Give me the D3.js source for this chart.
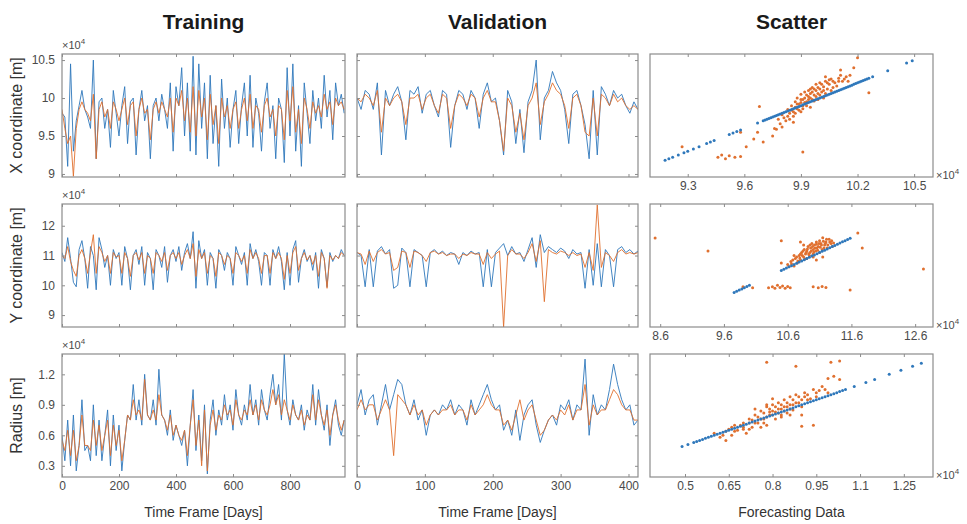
<!DOCTYPE html>
<html>
<head>
<meta charset="utf-8">
<script src="https://cdn.jsdelivr.net/npm/d3@7"></script>
<style>
  body { margin: 0; background: #fff; }
  text { font-family: "Liberation Sans", Arial, sans-serif; }
</style>
</head>
<body>
<script>
// values in units of 1e4 m, sampled every 10 days (training) / 6 days (validation)
const trainX_actual = [9.8,9.75,9.1,10.45,9.3,9.7,9.9,10.1,9.85,9.75,9.6,10.5,9.2,9.95,10.0,9.6,9.85,9.35,10.1,9.8,
  9.5,9.9,10.15,9.4,9.95,10.0,9.25,9.85,10.1,9.7,9.9,9.2,9.9,10.0,9.7,10.05,9.85,9.6,10.2,9.3,
  10.15,9.9,10.4,9.5,10.2,9.3,10.55,9.25,10.45,9.6,10.2,9.2,10.3,9.4,9.9,9.1,10.25,9.6,10.0,9.35,
  9.85,10.1,9.4,9.9,10.2,9.5,10.3,9.35,10.0,9.8,9.3,9.95,10.2,9.6,9.9,9.2,10.0,9.85,9.15,10.4,
  9.5,10.45,9.3,9.9,9.1,10.2,9.8,9.4,10.1,9.7,10.0,9.6,10.3,9.75,10.1,9.45,10.2,9.9,10.05,9.8]
const trainX_pred = [9.85,9.6,9.4,9.5,8.97,9.6,9.85,9.95,9.85,9.8,9.7,10.05,9.2,9.85,9.95,9.75,9.85,9.6,9.95,9.85,
  9.7,9.85,10.0,9.65,9.9,9.95,9.5,9.85,10.0,9.8,9.85,9.45,9.85,9.95,9.8,9.95,9.85,9.75,10.0,9.55,
  10.0,9.9,10.1,9.7,10.0,9.55,10.15,9.5,10.1,9.75,10.0,9.45,10.05,9.65,9.9,9.4,10.0,9.75,9.9,9.6,
  9.85,9.95,9.6,9.85,10.0,9.7,10.05,9.6,9.9,9.85,9.55,9.9,10.0,9.75,9.85,9.5,9.9,9.85,9.45,10.1,
  9.7,10.15,9.55,9.85,9.4,10.0,9.85,9.6,9.95,9.8,9.9,9.75,10.05,9.85,9.95,9.65,10.0,9.9,9.95,9.85]
const valX_actual = [10.0,9.85,10.1,10.05,9.85,10.2,9.25,10.1,9.9,10.05,10.15,9.95,9.45,10.1,10.05,10.15,9.8,10.05,10.1,9.9,
  9.75,10.1,10.05,9.35,9.9,10.1,10.05,9.85,10.1,10.0,9.6,10.05,10.2,9.95,10.0,9.7,9.25,10.1,9.95,9.4,
  9.85,9.28,9.95,10.1,10.5,9.45,10.0,10.1,10.35,10.2,10.1,9.85,9.4,10.05,10.1,9.9,9.65,9.2,10.1,9.25,
  10.15,10.05,9.9,10.1,10.0,10.05,9.9,9.8,9.95,9.85]
const valX_pred = [10.0,9.95,10.05,10.0,9.9,10.1,9.55,10.0,9.9,10.0,10.05,9.95,9.65,10.0,10.0,10.05,9.85,10.0,10.05,9.9,
  9.8,10.05,10.0,9.6,9.9,10.05,10.0,9.9,10.05,10.0,9.75,10.0,10.1,9.95,9.95,9.7,9.3,10.0,9.9,9.55,
  9.8,9.45,9.9,10.0,10.2,9.65,9.95,10.05,10.2,10.1,10.05,9.9,9.6,10.0,10.05,9.9,9.55,9.5,10.0,9.5,
  10.05,10.0,9.9,10.05,9.95,10.0,9.9,9.85,9.9,9.85]

const trainY_actual = [11.1,10.8,11.6,10.9,10.1,9.95,11.2,11.5,10.9,9.9,11.3,11.0,9.85,11.6,11.2,10.6,11.0,10.0,11.2,10.9,
  11.1,10.0,11.3,10.9,9.85,11.0,11.2,10.7,11.3,10.0,11.1,10.9,9.85,11.2,11.0,10.6,11.3,10.1,11.0,11.2,
  10.8,11.3,10.5,11.1,11.4,10.9,11.8,9.9,11.5,10.9,11.2,10.0,11.1,10.9,9.9,11.2,11.0,10.5,11.1,10.9,
  10.0,11.3,11.0,10.7,11.1,10.0,11.4,10.9,11.2,10.8,10.0,11.1,11.0,10.0,11.2,10.9,11.3,10.8,9.85,11.1,
  10.0,11.2,11.5,10.1,10.9,11.2,10.8,11.0,10.5,11.1,9.9,11.2,10.9,9.95,11.1,10.8,11.0,10.9,11.2,11.0]
const trainY_pred = [11.0,10.9,11.3,10.8,10.5,10.3,11.0,11.2,10.9,10.4,11.1,11.7,10.4,11.3,11.1,10.8,11.0,10.4,11.1,10.95,
  11.0,10.4,11.1,10.9,10.3,11.0,11.1,10.85,11.1,10.4,11.0,10.9,10.4,11.1,11.0,10.8,11.1,10.5,11.0,11.1,
  10.9,11.1,10.7,11.0,11.2,10.9,11.4,10.3,11.2,10.9,11.1,10.4,11.0,10.9,10.3,11.1,11.0,10.7,11.0,10.9,
  10.4,11.1,11.0,10.8,11.0,10.4,11.2,10.9,11.1,10.9,10.4,11.0,11.0,10.4,11.1,10.9,11.1,10.9,10.2,11.0,
  10.4,11.1,11.3,10.5,10.9,11.1,10.85,11.0,10.7,11.0,10.3,11.1,10.9,9.9,11.0,10.85,11.0,10.9,11.1,11.0]
const valY_actual = [11.1,11.0,9.95,11.2,9.95,11.15,11.3,11.05,11.2,9.9,10.0,11.25,11.1,9.95,11.2,11.1,11.0,9.95,11.1,11.2,
  11.05,11.15,11.0,11.1,11.05,10.7,11.1,11.0,11.15,11.05,11.1,9.95,11.2,9.95,11.1,11.25,11.4,11.0,11.3,11.05,
  11.1,10.8,11.2,11.6,10.6,11.7,11.1,11.3,11.2,11.1,11.25,11.15,10.9,11.2,11.05,11.1,9.9,11.2,10.0,11.4,
  9.95,11.2,11.0,9.95,11.2,11.3,11.1,11.2,11.05,11.15]
const valY_pred = [11.1,11.05,10.7,11.15,10.8,11.1,11.2,11.05,11.1,10.5,10.6,11.15,11.1,10.6,11.15,11.1,11.0,10.8,11.1,11.15,
  11.05,11.1,11.0,11.05,11.05,10.9,11.05,11.0,11.1,11.05,11.05,10.7,11.1,10.9,11.05,11.15,8.6,11.0,11.2,11.05,
  11.05,10.9,11.1,11.4,10.8,11.5,9.45,11.2,11.1,11.05,11.15,11.1,11.0,11.1,11.0,11.05,10.6,11.1,10.5,12.7,
  10.6,11.1,11.0,10.8,11.1,11.2,11.05,11.1,11.05,11.1]

const trainR_actual = [0.6,0.35,0.75,0.3,0.8,0.25,0.5,0.95,0.45,0.5,0.35,0.9,0.4,0.75,0.35,0.6,0.85,0.3,0.8,0.45,
  0.7,0.25,0.55,0.8,0.75,1.1,0.75,0.95,0.7,1.2,0.8,0.75,0.95,0.7,1.25,0.8,0.75,0.6,0.85,0.55,
  0.7,0.6,0.5,0.65,0.3,0.7,1.05,0.45,0.8,0.35,0.9,0.22,0.75,0.95,0.6,0.85,0.7,1.0,0.75,0.9,
  0.65,1.05,0.8,0.7,0.9,0.75,1.1,0.8,0.95,0.7,1.05,0.85,0.75,1.0,1.2,0.9,1.1,0.75,1.4,0.85,
  0.7,0.95,0.8,0.75,0.9,0.65,0.85,0.75,1.1,0.7,1.05,0.8,0.65,0.9,0.5,0.8,0.95,0.7,0.6,0.75]
const trainR_pred = [0.55,0.45,0.65,0.4,0.65,0.35,0.5,0.8,0.5,0.5,0.45,0.75,0.5,0.7,0.45,0.6,0.75,0.4,0.7,0.5,
  0.65,0.35,0.55,0.8,0.75,0.95,0.8,0.85,0.75,1.15,0.8,0.75,0.85,0.75,1.0,0.8,0.75,0.65,0.8,0.6,
  0.7,0.6,0.55,0.65,0.4,0.7,0.95,0.5,0.75,0.3,0.85,0.25,0.7,0.85,0.65,0.8,0.75,0.9,0.8,0.85,
  0.7,0.95,0.8,0.75,0.85,0.8,0.95,0.8,0.9,0.75,0.95,0.85,0.8,0.9,1.05,0.9,1.0,0.8,0.95,0.85,
  0.75,0.9,0.8,0.75,0.85,0.7,0.8,0.75,1.0,0.75,0.95,0.8,0.7,0.85,0.6,0.8,0.9,0.75,0.65,0.75]
const valR_actual = [0.9,1.05,0.8,0.95,1.0,0.7,0.9,1.1,0.85,1.0,1.15,1.1,0.9,0.8,0.95,0.75,0.85,0.6,0.8,0.85,
  0.8,0.9,0.85,0.95,0.8,0.9,0.85,0.7,0.95,0.8,0.9,1.0,1.1,0.95,0.85,0.9,0.65,0.75,0.6,0.85,
  0.55,0.8,0.9,0.95,0.7,0.53,0.65,0.75,0.8,0.7,0.9,0.85,0.95,0.75,0.9,0.85,1.35,0.6,1.0,0.8,
  0.9,0.85,1.05,1.3,1.1,0.95,0.85,0.9,0.7,0.75]
const valR_pred = [0.85,0.95,0.85,0.9,0.9,0.75,0.85,0.95,0.85,0.4,1.0,0.95,0.9,0.8,0.9,0.8,0.85,0.7,0.8,0.85,
  0.8,0.85,0.85,0.9,0.8,0.85,0.85,0.75,0.9,0.8,0.85,0.9,1.0,0.9,0.85,0.85,0.7,0.75,0.65,0.8,
  0.95,0.75,0.85,0.9,0.75,0.6,0.65,0.75,0.8,0.75,0.85,0.8,0.9,0.75,0.85,0.85,1.1,0.7,0.9,0.8,
  0.85,0.85,0.95,1.05,1.0,0.9,0.85,0.85,0.75,0.75]

// scatter: blue = target vs target, orange = [target, forecast]
const scatX_target = [9.18,9.2,9.22,9.25,9.28,9.3,9.33,9.36,9.4,9.42,9.44,9.52,9.54,9.56,9.58,9.67,9.7,9.71,9.72,
  9.73,9.74,9.75,9.76,9.77,9.78,9.79,9.8,9.81,9.82,9.83,9.84,9.85,9.86,9.87,9.88,9.89,9.9,9.91,9.92,9.93,
  9.94,9.95,9.96,9.97,9.98,9.99,10.0,10.01,10.02,10.03,10.04,10.05,10.06,10.07,10.08,10.09,10.1,10.11,
  10.12,10.13,10.14,10.15,10.16,10.17,10.18,10.19,10.2,10.21,10.22,10.23,10.24,10.25,10.26,10.28,10.36,10.46,10.49]
const scatX_fore = [[9.78,9.72],[9.8,9.78],[9.82,9.7],[9.83,9.85],[9.84,9.8],[9.85,9.9],[9.86,9.76],[9.87,9.95],
  [9.88,9.86],[9.88,10.0],[9.89,9.92],[9.9,9.98],[9.9,10.05],[9.91,9.9],[9.92,10.08],[9.92,10.0],[9.93,9.95],
  [9.94,10.1],[9.94,10.02],[9.95,10.06],[9.96,9.98],[9.96,10.14],[9.97,10.04],[9.98,10.1],[9.98,10.18],
  [9.99,10.06],[10.0,10.12],[10.0,10.2],[10.01,10.08],[10.02,10.15],[10.03,10.22],[10.04,10.12],[10.05,10.18],
  [10.06,10.25],[10.07,10.14],[10.08,10.2],[10.1,10.26],[10.12,10.22],[10.14,10.28],[9.86,9.68],[9.8,9.62],
  [9.76,9.6],[9.95,9.88],[10.02,10.0],[9.9,9.82],
  [9.79,9.66],[9.81,9.74],[9.83,9.76],[9.85,9.84],[9.86,9.82],[9.87,9.88],[9.88,9.92],[9.89,9.84],[9.9,9.94],
  [9.91,9.98],[9.92,9.94],[9.93,10.04],[9.93,9.9],[9.94,9.98],[9.95,10.12],[9.95,10.0],[9.96,10.08],[9.97,10.12],
  [9.97,9.96],[9.98,10.02],[9.99,10.14],[10.0,10.04],[10.01,10.18],[10.02,10.1],[10.03,10.06],[10.04,10.2],
  [10.05,10.24],[10.06,10.1],[10.07,10.22],[10.09,10.16],[10.1,10.22],[10.11,10.3],[10.13,10.25],[10.15,10.22],
  [10.16,10.3],[9.84,9.72],[9.87,9.8],[9.91,9.86],[9.99,9.98],[10.03,10.28],
  [9.27,9.36],[9.46,9.22],[9.48,9.25],[9.5,9.2],[9.52,9.24],[9.55,9.22],[9.58,9.23],[9.58,9.55],[9.61,9.36],
  [9.65,9.46],[9.67,9.55],[9.68,9.89],[9.7,9.42],[9.75,9.5],[9.77,9.59],[10.11,10.37],[10.18,10.4],[10.26,10.07],
  [10.2,10.53],[9.91,9.29]]
const scatY_target = [9.76,9.8,9.84,9.88,9.92,9.96,10.0,10.5,10.54,10.58,10.62,10.66,10.7,10.74,10.78,10.82,
  10.86,10.9,10.94,10.98,11.02,11.06,11.1,11.14,11.18,11.22,11.26,11.3,11.34,11.38,11.42,11.46,11.5,11.54,11.58]
const scatY_fore = [[10.6,10.7],[10.65,10.8],[10.7,10.65],[10.72,10.9],[10.75,10.75],[10.78,11.0],[10.8,10.85],
  [10.82,11.1],[10.85,10.95],[10.86,11.2],[10.88,11.05],[10.9,10.9],[10.9,11.15],[10.92,11.3],[10.94,11.0],
  [10.95,11.1],[10.96,11.25],[10.98,11.4],[11.0,11.05],[11.0,11.2],[11.02,11.35],[11.04,11.15],[11.05,11.45],
  [11.06,11.25],[11.08,11.3],[11.1,11.1],[11.1,11.5],[11.12,11.4],[11.14,11.2],[11.15,11.6],[11.18,11.35],
  [11.2,11.45],[11.22,11.25],[11.25,11.55],[11.28,11.4],[11.3,11.3],[10.85,11.35],[10.7,11.0],[11.15,10.95],
  [11.05,10.85],[10.5,10.75],[10.8,11.45],
  [10.62,10.62],[10.66,10.72],[10.68,10.85],[10.74,10.95],[10.76,10.82],[10.79,10.92],[10.83,11.0],[10.84,11.15],
  [10.87,10.88],[10.89,11.1],[10.91,11.22],[10.93,11.05],[10.97,11.15],[10.99,11.3],[11.01,11.12],[11.03,11.25],
  [11.05,11.38],[11.07,11.18],[11.09,11.4],[11.11,11.28],[11.13,11.35],[11.16,11.48],[11.17,11.25],[11.19,11.4],
  [11.21,11.55],[11.23,11.35],[11.26,11.45],[11.29,11.5],[11.32,11.42],[11.0,10.95],[10.95,11.35],[10.8,11.05],
  [10.3,9.92],[10.36,9.95],[10.4,9.9],[10.44,10.0],[10.48,9.93],[10.52,9.98],[10.56,9.9],[10.6,9.96],[10.64,9.92],
  [11.0,9.95],[11.08,9.92],[11.14,9.96],[11.2,9.93],[9.9,9.95],[10.05,9.92],[8.52,11.59],[9.35,11.15],
  [11.7,11.76],[11.77,11.25],[12.73,10.55],[11.58,9.84],[10.5,11.5]]
const scatR_target = [0.49,0.51,0.53,0.54,0.55,0.56,0.57,0.58,0.59,0.6,0.61,0.62,0.63,0.64,0.65,0.66,0.67,0.68,
  0.69,0.7,0.71,0.72,0.73,0.74,0.75,0.76,0.77,0.78,0.79,0.8,0.81,0.82,0.83,0.84,0.85,0.86,0.87,0.88,0.89,0.9,
  0.91,0.92,0.93,0.94,0.95,0.96,0.97,0.98,0.99,1.0,1.01,1.02,1.03,1.04,1.05,1.08,1.12,1.15,1.2,1.24,1.28,1.31]
const scatR_fore = [[0.62,0.58],[0.64,0.64],[0.66,0.6],[0.67,0.7],[0.68,0.65],[0.7,0.72],[0.71,0.62],[0.72,0.76],
  [0.73,0.68],[0.74,0.8],[0.75,0.72],[0.76,0.84],[0.77,0.76],[0.78,0.88],[0.78,0.7],[0.79,0.8],[0.8,0.9],
  [0.8,0.84],[0.81,0.76],[0.82,0.92],[0.82,0.86],[0.83,0.8],[0.84,0.95],[0.84,0.88],[0.85,0.82],[0.86,0.98],
  [0.86,0.9],[0.87,0.85],[0.88,1.0],[0.89,0.92],[0.9,0.88],[0.91,1.02],[0.92,0.95],[0.94,1.05],[0.95,0.98],
  [0.97,1.08],[0.99,1.02],[0.7,0.66],[0.76,0.68],[0.8,0.96],[0.74,0.86],[0.66,0.68],[0.9,0.8],
  [0.63,0.6],[0.65,0.66],[0.67,0.64],[0.69,0.7],[0.7,0.68],[0.72,0.72],[0.73,0.75],[0.74,0.72],[0.75,0.78],
  [0.76,0.76],[0.77,0.82],[0.78,0.78],[0.79,0.86],[0.79,0.83],[0.8,0.8],[0.81,0.88],[0.81,0.83],[0.82,0.82],
  [0.83,0.9],[0.83,0.86],[0.84,0.84],[0.85,0.92],[0.85,0.88],[0.86,0.86],[0.87,0.95],[0.87,0.9],[0.88,0.92],
  [0.89,0.98],[0.9,0.95],[0.91,0.98],[0.92,1.0],[0.93,0.96],[0.95,1.02],[0.96,1.04],[0.98,1.05],[0.72,0.66],
  [0.77,0.72],[0.83,0.78],[0.86,0.8],[0.78,0.9],
  [0.78,1.32],[0.88,1.28],[1.0,1.32],[1.03,1.33],[0.99,1.16],[1.01,1.18],[1.03,1.15],[0.9,0.69],[0.94,0.7],
  [0.64,0.55],[0.6,0.62]]

const rowNames = ['X coordinate [m]', 'Y coordinate [m]', 'Radius [m]']
const colTitles = ['Training', 'Validation', 'Scatter']
const yDomains = [[8.96, 10.58], [8.6, 12.73], [0.19, 1.40]]
const yTicks = [[9, 9.5, 10, 10.5], [9, 10, 11, 12], [0.3, 0.6, 0.9, 1.2]]
const trainTicks = [0, 200, 400, 600, 800]
const valTicks = [0, 100, 200, 300, 400]
const scatDomains = [[9.1, 10.6], [8.44, 12.88], [0.38, 1.35]]
const scatTicks = [[9.3, 9.6, 9.9, 10.2, 10.5], [8.6, 9.6, 10.6, 11.6, 12.6], [0.5, 0.65, 0.8, 0.95, 1.1, 1.25]]

const trainSeries = [[trainX_actual, trainX_pred], [trainY_actual, trainY_pred], [trainR_actual, trainR_pred]]
const valSeries = [[valX_actual, valX_pred], [valY_actual, valY_pred], [valR_actual, valR_pred]]
const scatSeries = [[scatX_target, scatX_fore], [scatY_target, scatY_fore], [scatR_target, scatR_fore]]

const blue = '#2f78bb', orange = '#e0702f', boxColor = '#8c8c8c', tickText = '#4a4a4a'
const colX = [62, 357, 650], colW = [283, 281, 283]
const rowY = [54, 204, 354], rowH = 123

const svg = d3.select('body').append('svg').attr('width', 967).attr('height', 524)

colTitles.forEach((t, c) => {
  svg.append('text').attr('x', colX[c] + colW[c] / 2).attr('y', 29)
    .attr('text-anchor', 'middle').attr('font-size', 21).attr('font-weight', 'bold')
    .attr('fill', '#1a1a1a').text(t)
})

function exponent(g, x, y, anchor) {
  const t = g.append('text').attr('x', x).attr('y', y).attr('font-size', 11)
    .attr('fill', tickText).attr('text-anchor', anchor)
  t.append('tspan').text('×10')
  t.append('tspan').attr('font-size', 8).attr('dy', -5).text('4')
}

function frame(g, x, y, w, h, opts) {
  const ax = (gen, tr) => {
    const a = g.append('g').attr('transform', tr).call(gen)
    a.select('.domain').remove()
    a.selectAll('line').attr('stroke', boxColor)
    a.selectAll('text').attr('fill', tickText).attr('font-size', 12)
      .attr('font-family', '"Liberation Sans", Arial, sans-serif')
  }
  ax(d3.axisBottom(x).tickValues(opts.xTicks).tickSize(-3).tickPadding(4)
    .tickFormat(opts.xLabels ? d3.format('') : ''), `translate(0,${h})`)
  ax(d3.axisTop(x).tickValues(opts.xTicks).tickSize(-3).tickFormat(''), 'translate(0,0)')
  if (opts.yTicks) {
    ax(d3.axisLeft(y).tickValues(opts.yTicks).tickSize(-3).tickPadding(7)
      .tickFormat(opts.yLabels ? d3.format('') : ''), 'translate(0,0)')
    ax(d3.axisRight(y).tickValues(opts.yTicks).tickSize(-3).tickFormat(''), `translate(${w},0)`)
  }
  g.append('rect').attr('width', w).attr('height', h)
    .attr('fill', 'none').attr('stroke', boxColor).attr('stroke-width', 1.2)
}

for (let r = 0; r < 3; r++) {
  // time series panels
  ;[[trainSeries[r], 993, trainTicks, 10], [valSeries[r], 414, valTicks, 6]].forEach(([ser, xmax, ticks, step], c) => {
    const w = colW[c]
    const g = svg.append('g').attr('transform', `translate(${colX[c]},${rowY[r]})`)
    const x = d3.scaleLinear().domain([0, xmax]).range([0, w])
    const y = d3.scaleLinear().domain(yDomains[r]).range([rowH, 0])
    const clipId = `clip-${r}-${c}`
    g.append('clipPath').attr('id', clipId).append('rect').attr('width', w).attr('height', rowH)
    const line = d3.line().x((d, i) => x(i * step)).y(d => y(d))
    ser.forEach((vals, k) => {
      g.append('path').datum(vals).attr('d', line).attr('fill', 'none')
        .attr('stroke', k === 0 ? blue : orange).attr('stroke-width', 1)
        .attr('stroke-opacity', 0.9).attr('clip-path', `url(#${clipId})`)
    })
    frame(g, x, y, w, rowH, { xTicks: ticks, xLabels: r === 2, yTicks: yTicks[r], yLabels: c === 0 })
    if (c === 0) exponent(g, 0, -5, 'start')
  })

  // scatter panel
  const w = colW[2]
  const g = svg.append('g').attr('transform', `translate(${colX[2]},${rowY[r]})`)
  const x = d3.scaleLinear().domain(scatDomains[r]).range([0, w])
  const y = d3.scaleLinear().domain(yDomains[r]).range([rowH, 0])
  const [target, fore] = scatSeries[r]
  g.selectAll('.fore').data(fore).join('circle').attr('class', 'fore')
    .attr('cx', d => x(d[0])).attr('cy', d => y(d[1])).attr('r', 1.5).attr('fill', orange)
  g.selectAll('.targ').data(target).join('circle').attr('class', 'targ')
    .attr('cx', d => x(d)).attr('cy', d => y(d)).attr('r', 1.5).attr('fill', blue)
  frame(g, x, y, w, rowH, { xTicks: scatTicks[r], xLabels: true })
  exponent(g, w + 3, rowH + 2, 'start')

  // row label
  svg.append('text').attr('transform', `translate(22,${rowY[r] + rowH / 2}) rotate(-90)`)
    .attr('text-anchor', 'middle').attr('font-size', 16).attr('fill', '#333').text(rowNames[r])
}

const xLabels = ['Time Frame [Days]', 'Time Frame [Days]', 'Forecasting Data']
xLabels.forEach((t, c) => {
  svg.append('text').attr('x', colX[c] + colW[c] / 2).attr('y', 517)
    .attr('text-anchor', 'middle').attr('font-size', 14).attr('fill', '#333').text(t)
})
</script>
</body>
</html>
